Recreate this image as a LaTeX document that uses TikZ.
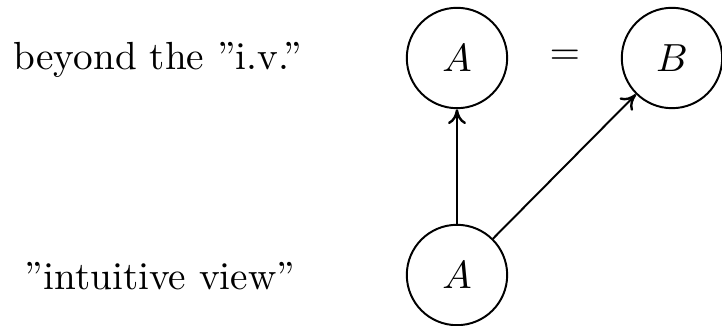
\documentclass[tikz,border=0pt]{standalone}
\usetikzlibrary{arrows.meta}
\begin{document}
\begin{tikzpicture}[x=0.255pt,y=-0.255pt,
  state/.style={circle,draw,line width=0.5pt,inner sep=0pt,minimum size=25.6pt},
  label text/.style={anchor=base,inner sep=0pt},
  link/.style={-{To[length=3.8pt,width=4.6pt,line width=0.6pt]},line width=0.5pt}]
  \useasboundingbox (0,0) rectangle (722,326);
  % row labels
  \node[label text] (top) at (158,70) {beyond the "i.v."};
  \node[label text] (bottom) at (160,290) {"intuitive view"};
  % states
  \node[state] (a1) at (457,58) {$A$};
  \node[state] (b) at (672,58) {$B$};
  \node[state] (a2) at (457,275) {$A$};
  \node (eq) at (565,57) {$=$};
  % links
  \draw[link] (a2) -- (a1);
  \draw[link] (a2) -- (b);
\end{tikzpicture}
\end{document}
